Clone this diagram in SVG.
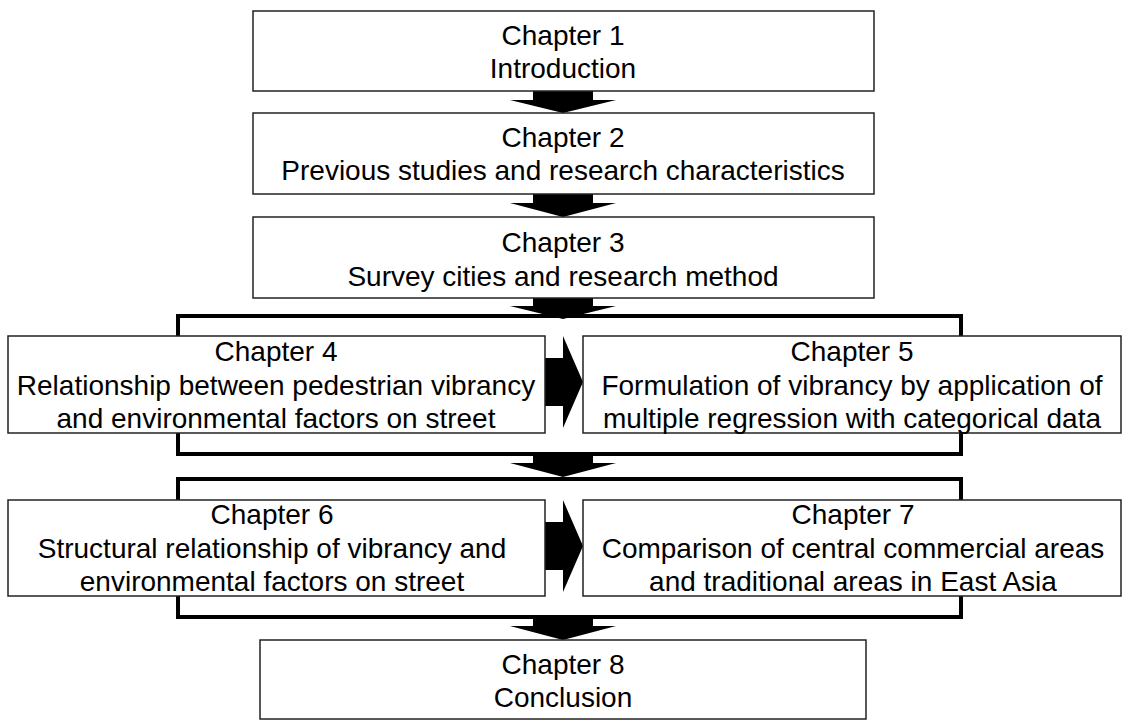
<svg xmlns="http://www.w3.org/2000/svg" width="1125" height="720" viewBox="0 0 1125 720">
<style>
.box{fill:#fff;stroke:#222;stroke-width:1.5}
.br{fill:none;stroke:#000;stroke-width:4;stroke-linejoin:miter}
.ar{fill:#000;stroke:none}
text{font-family:"Liberation Sans",Arial,sans-serif;font-size:28px;fill:#000;text-anchor:middle}
</style>
<rect width="1125" height="720" fill="#fff"/>
<g id="connectors">
<path class="br" d="M178,336 V316 H961 V336 M178,433 V454 H961 V433"/>
<path class="br" d="M178,500 V479 H961 V500 M178,596 V617 H961 V596"/>
<polygon class="ar" points="533,91 593,91 593,100 616,100 563,113 510,100 533,100"/>
<polygon class="ar" points="533,194 593,194 593,203 616,203 563,217 510,203 533,203"/>
<polygon class="ar" points="533,297 593,297 593,306 616,306 563,319 510,306 533,306"/>
<polygon class="ar" points="533,455 593,455 593,463 616,463 563,477 510,463 533,463"/>
<polygon class="ar" points="533,618 593,618 593,626 616,626 563,640 510,626 533,626"/>
<polygon class="ar" points="545,358 563,358 563,336 583,382 563,428 563,406 545,406"/>
<polygon class="ar" points="545,522 563,522 563,500 583,546 563,592 563,570 545,570"/>
</g>
<g id="ch1"><rect class="box" x="253" y="11" width="621" height="80"/><text x="563" y="45">Chapter 1</text><text x="563" y="78">Introduction</text></g>
<g id="ch2"><rect class="box" x="253" y="113" width="621" height="81"/><text x="563" y="147">Chapter 2</text><text x="563" y="180">Previous studies and research characteristics</text></g>
<g id="ch3"><rect class="box" x="253" y="217" width="621" height="81"/><text x="563" y="252">Chapter 3</text><text x="563" y="286">Survey cities and research method</text></g>
<g id="ch4"><rect class="box" x="8" y="336" width="537" height="97"/><text x="276" y="361">Chapter 4</text><text x="276" y="395">Relationship between pedestrian vibrancy</text><text x="276" y="428">and environmental factors on street</text></g>
<g id="ch5"><rect class="box" x="583" y="336" width="538" height="97"/><text x="852" y="361">Chapter 5</text><text x="852" y="395">Formulation of vibrancy by application of</text><text x="852" y="428">multiple regression with categorical data</text></g>
<g id="ch6"><rect class="box" x="8" y="500" width="537" height="96"/><text x="272" y="524">Chapter 6</text><text x="272" y="558">Structural relationship of vibrancy and</text><text x="272" y="591">environmental factors on street</text></g>
<g id="ch7"><rect class="box" x="583" y="500" width="538" height="96"/><text x="853" y="524">Chapter 7</text><text x="853" y="558">Comparison of central commercial areas</text><text x="853" y="591">and traditional areas in East Asia</text></g>
<g id="ch8"><rect class="box" x="260" y="640" width="606" height="79"/><text x="563" y="674">Chapter 8</text><text x="563" y="707">Conclusion</text></g>
</svg>
